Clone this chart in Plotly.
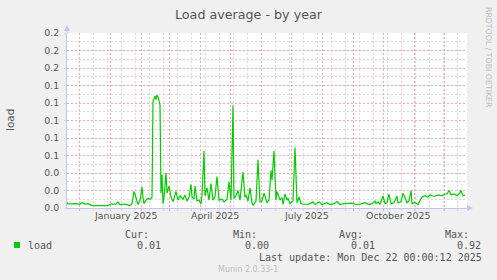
import pandas as pd
import plotly.graph_objects as go

# ---- data ----
dates = [
    "2024-11-19", "2024-11-20", "2024-11-27", "2024-12-02", "2024-12-04", "2024-12-07", "2024-12-10", "2024-12-14", "2024-12-22", "2024-12-30",
    "2025-01-02", "2025-01-07", "2025-01-09", "2025-01-11", "2025-01-16", "2025-01-19", "2025-01-21", "2025-01-23", "2025-01-25", "2025-01-27", "2025-01-28", "2025-01-29", "2025-01-31",
    "2025-02-02", "2025-02-03", "2025-02-04", "2025-02-06", "2025-02-08", "2025-02-10", "2025-02-12", "2025-02-13", "2025-02-14", "2025-02-15", "2025-02-16", "2025-02-17", "2025-02-18", "2025-02-19", "2025-02-20", "2025-02-21", "2025-02-22", "2025-02-23", "2025-02-24", "2025-02-26", "2025-02-27",
    "2025-03-01", "2025-03-03", "2025-03-05", "2025-03-08", "2025-03-10", "2025-03-12", "2025-03-15", "2025-03-17", "2025-03-19", "2025-03-21", "2025-03-23", "2025-03-24", "2025-03-26", "2025-03-27", "2025-03-29", "2025-03-31",
    "2025-04-02", "2025-04-03", "2025-04-05", "2025-04-06", "2025-04-08", "2025-04-10", "2025-04-12", "2025-04-14", "2025-04-16", "2025-04-18", "2025-04-20", "2025-04-23", "2025-04-25", "2025-04-28", "2025-04-30",
    "2025-05-02", "2025-05-04", "2025-05-05", "2025-05-07", "2025-05-09", "2025-05-11", "2025-05-14", "2025-05-16", "2025-05-17", "2025-05-19", "2025-05-21", "2025-05-23", "2025-05-24", "2025-05-27", "2025-05-29", "2025-05-31",
    "2025-06-02", "2025-06-04", "2025-06-07", "2025-06-09", "2025-06-11", "2025-06-12", "2025-06-14", "2025-06-16", "2025-06-17", "2025-06-20", "2025-06-22", "2025-06-23", "2025-06-25", "2025-06-27", "2025-06-28", "2025-06-30",
    "2025-07-03", "2025-07-05", "2025-07-07", "2025-07-09", "2025-07-11", "2025-07-13", "2025-07-17", "2025-07-20", "2025-07-23", "2025-07-25", "2025-07-29",
    "2025-08-01", "2025-08-06", "2025-08-09", "2025-08-13", "2025-08-16", "2025-08-19", "2025-08-23", "2025-08-27", "2025-08-31",
    "2025-09-04", "2025-09-08", "2025-09-13", "2025-09-17", "2025-09-20", "2025-09-23", "2025-09-24", "2025-09-26", "2025-09-28",
    "2025-10-01", "2025-10-03", "2025-10-05", "2025-10-07", "2025-10-09", "2025-10-12", "2025-10-15", "2025-10-16", "2025-10-19", "2025-10-21", "2025-10-23", "2025-10-25", "2025-10-27", "2025-10-29", "2025-10-30",
    "2025-11-02", "2025-11-05", "2025-11-07", "2025-11-09", "2025-11-12", "2025-11-15", "2025-11-17", "2025-11-19", "2025-11-22", "2025-11-25", "2025-11-29",
    "2025-12-01", "2025-12-02", "2025-12-04", "2025-12-06", "2025-12-08", "2025-12-11", "2025-12-14", "2025-12-16", "2025-12-18", "2025-12-20", "2025-12-22",
]
load = [
    0.0065, 0.0046, 0.005, 0.0045, 0.006, 0.0045, 0.005, 0.0027, 0.0027, 0.0028,
    0.0045, 0.0045, 0.007, 0.004, 0.0045, 0.0035, 0.0027, 0.005, 0.019, 0.012, 0.009, 0.004, 0.0085,
    0.024, 0.012, 0.005, 0.009, 0.011, 0.01, 0.012, 0.122, 0.126, 0.128, 0.124, 0.129, 0.127, 0.121, 0.118, 0.017, 0.038, 0.005, 0.012, 0.04, 0.017,
    0.025, 0.013, 0.007, 0.019, 0.009, 0.014, 0.01, 0.015, 0.008, 0.012, 0.027, 0.013, 0.01, 0.025, 0.008, 0.009,
    0.0046, 0.015, 0.065, 0.014, 0.023, 0.009, 0.028, 0.009, 0.013, 0.036, 0.009, 0.01, 0.007, 0.01, 0.03,
    0.009, 0.117, 0.011, 0.014, 0.02, 0.009, 0.041, 0.012, 0.015, 0.008, 0.023, 0.006, 0.003, 0.008, 0.055, 0.007,
    0.008, 0.017, 0.006, 0.009, 0.043, 0.032, 0.065, 0.009, 0.019, 0.009, 0.012, 0.004, 0.016, 0.009, 0.011, 0.005,
    0.008, 0.069, 0.006, 0.0126, 0.005, 0.0046, 0.004, 0.005, 0.007, 0.004, 0.007,
    0.004, 0.006, 0.004, 0.005, 0.0075, 0.004, 0.005, 0.0055, 0.0055,
    0.004, 0.0045, 0.006, 0.004, 0.005, 0.008, 0.005, 0.007, 0.004,
    0.0137, 0.005, 0.006, 0.016, 0.005, 0.006, 0.0137, 0.006, 0.007, 0.017, 0.012, 0.006, 0.008, 0.02, 0.005,
    0.006, 0.004, 0.008, 0.0126, 0.014, 0.0126, 0.015, 0.014, 0.0135, 0.015, 0.014,
    0.015, 0.016, 0.016, 0.02, 0.015, 0.016, 0.014, 0.016, 0.02, 0.014, 0.015,
]

y_ticks = [0.0, 0.02, 0.04, 0.06, 0.08, 0.10, 0.12, 0.14, 0.16, 0.18, 0.20]
y_ticktext = ["%.1f" % v for v in y_ticks]
y_minor = [0.01, 0.03, 0.05, 0.07, 0.09, 0.11, 0.13, 0.15, 0.17, 0.19]

month_starts = ["2024-12-01", "2025-01-01", "2025-02-01", "2025-03-01", "2025-04-01", "2025-05-01",
                "2025-06-01", "2025-07-01", "2025-08-01", "2025-09-01", "2025-10-01", "2025-11-01", "2025-12-01"]
x_label_dates = ["2025-01-16", "2025-04-16", "2025-07-16", "2025-10-16"]
x_label_text = ["January 2025", "April 2025", "July 2025", "October 2025"]

legend_name = "load"
stat_names = ["Cur:", "Min:", "Avg:", "Max:"]
stat_values = ["0.01", "0.00", "0.01", "0.92"]
last_update = "Last update: Mon Dec 22 00:00:12 2025"

# biweekly minor grid positions (excluding month starts, where the major grid is)
x_minor = [d.strftime("%Y-%m-%d") for d in pd.date_range("2024-12-01", "2025-12-24", freq="14D")
           if d.strftime("%Y-%m-%d") not in month_starts]

# ---- layout geometry (pixels) ----
W, H = 497, 280
L, R, T, B = 67, 467, 33, 208

def px(x):
    return (x - L) / (R - L)

def py(y):
    return (B - y) / (B - T)

MAJ = "#F2ABAB"
MIN = "#DADADA"
AXIS = "#C4C4EE"
TXT = "#555555"
SANS = "DejaVu Sans"
MONO = "DejaVu Sans Mono"
DASH = "2px,2px"

fig = go.Figure()
fig.add_trace(go.Scatter(x=dates, y=load, mode="lines",
                         line=dict(color="#00CC00", width=1.2), hoverinfo="skip",
                         showlegend=False))

fig.update_layout(
    width=W, height=H,
    margin=dict(l=L, r=W - R, t=T, b=H - B, pad=0),
    paper_bgcolor="#F0F0F0", plot_bgcolor="#FFFFFF",
    showlegend=False,
    xaxis=dict(
        type="date", range=["2024-11-19", "2025-12-24"],
        tickmode="array", tickvals=month_starts, ticktext=["" for _ in month_starts],
        showgrid=True, gridcolor=MAJ, griddash=DASH, gridwidth=1,
        ticks="outside", ticklen=2, tickcolor=MAJ,
        minor=dict(tickmode="array", tickvals=x_minor, showgrid=True,
                   gridcolor=MIN, griddash=DASH, gridwidth=1,
                   ticks="outside", ticklen=2, tickcolor=MIN),
        showline=True, linecolor=AXIS, linewidth=1,
        zeroline=False, fixedrange=True,
    ),
    yaxis=dict(
        range=[0, 0.2], tickmode="array", tickvals=y_ticks, ticktext=y_ticktext,
        showgrid=True, gridcolor=MAJ, griddash=DASH, gridwidth=1,
        ticks="outside", ticklen=2, tickcolor=MIN,
        ticklabelstandoff=3,
        minor=dict(tickmode="array", tickvals=y_minor, showgrid=True, gridcolor=MIN,
                   griddash=DASH, gridwidth=1),
        tickfont=dict(family=SANS, size=9.4, color=TXT),
        showline=True, linecolor=AXIS, linewidth=1,
        zeroline=False, fixedrange=True,
    ),
)

shapes = [
    # y axis extension + arrow
    dict(type="line", xref="paper", yref="paper", x0=0, x1=0, y0=1, y1=py(28),
         line=dict(color=AXIS, width=1)),
    dict(type="path", xref="paper", yref="paper",
         path="M %f,%f L %f,%f L %f,%f Z" % (px(67), py(25), px(64), py(31), px(70), py(31)),
         fillcolor=AXIS, line=dict(width=0)),
    # x axis extension + arrow
    dict(type="line", xref="paper", yref="paper", x0=1, x1=px(470), y0=0, y1=0,
         line=dict(color=AXIS, width=1)),
    dict(type="path", xref="paper", yref="paper",
         path="M %f,%f L %f,%f L %f,%f Z" % (px(473), py(208), px(467), py(205), px(467), py(211)),
         fillcolor=AXIS, line=dict(width=0)),
    # legend swatch
    dict(type="rect", xref="paper", yref="paper", x0=px(14), x1=px(20), y0=py(242), y1=py(248),
         fillcolor="#00CC00", line=dict(width=0)),
]
fig.update_layout(shapes=shapes)

ann = []
def add(text, x, y, size, family, color=TXT, xanchor="center", angle=0):
    ann.append(dict(text=text, x=px(x), y=py(y), xref="paper", yref="paper",
                    xanchor=xanchor, yanchor="middle", showarrow=False, textangle=angle,
                    font=dict(family=family, size=size, color=color)))

add("Load average - by year", 248.5, 14, 12.7, SANS)
add("load", 10, 120, 10.5, SANS, angle=-90)
add("RRDTOOL / TOBI OETIKER", 489, 57, 7.8, SANS, color="#BDBDBD", angle=90)
for d, t in zip(x_label_dates, x_label_text):
    ann.append(dict(text=t, x=d, y=py(215), xref="x", yref="paper", xanchor="center",
                    yanchor="middle", showarrow=False,
                    font=dict(family=SANS, size=9.4, color=TXT)))

add(legend_name, 25.5, 245.5, 10, MONO, xanchor="left")
head_right = [151, 258.5, 364.5, 471]
val_right = [163.3, 271, 376.5, 483]
for n, v, hx, vx in zip(stat_names, stat_values, head_right, val_right):
    add(n, hx, 234, 10, MONO, xanchor="right")
    add(v, vx, 245.5, 10, MONO, xanchor="right")
add(last_update, 483.5, 257.5, 10, MONO, xanchor="right")
add("Munin 2.0.33-1", 248, 269.5, 8, SANS, color="#BDBDBD")
fig.update_layout(annotations=ann)

fig.write_html("out.html")
